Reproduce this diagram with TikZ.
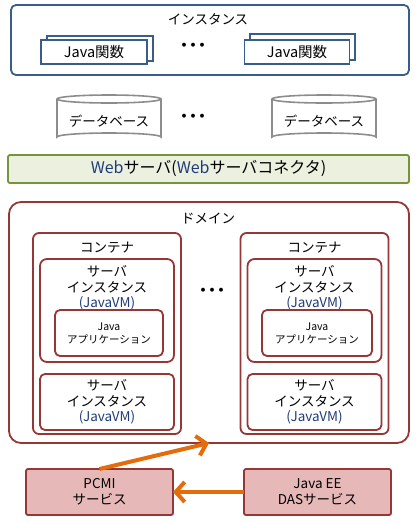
\documentclass[tikz,border=0pt]{standalone}
\usepackage{fontspec}
\setmainfont{Noto Sans CJK JP}
\usetikzlibrary{arrows.meta}
\definecolor{instblue}{HTML}{385D8A}
\definecolor{domred}{HTML}{953735}
\definecolor{webfill}{HTML}{EBF1DE}
\definecolor{webdraw}{HTML}{77933C}
\definecolor{pinkfill}{HTML}{E6B9B8}
\definecolor{arrorange}{HTML}{E46C0A}
\definecolor{latinblue}{HTML}{1F3B7A}
\definecolor{dbgray}{HTML}{8C8C8C}
\tikzset{
  base/.style={inner sep=0pt, outer sep=0pt},
  instbox/.style={base, draw=instblue, line width=1.8pt, rounded corners=5pt},
  funcbox/.style={base, draw=instblue, line width=1.8pt, fill=white, font=\fontsize{14.5}{16}\selectfont},
  redbox/.style={base, draw=domred, line width=1.8pt, align=center},
  webbox/.style={base, draw=webdraw, fill=webfill, line width=1.8pt, rounded corners=2pt, font=\fontsize{16}{18}\selectfont},
  svcbox/.style={base, draw=domred, fill=pinkfill, line width=1.8pt, rounded corners=2pt, align=center, font=\fontsize{13.5}{16.5}\selectfont},
  txt/.style={base, align=center, font=\fontsize{13.5}{15.5}\selectfont},
  apptxt/.style={base, align=center, font=\fontsize{10.5}{13}\selectfont},
  dots/.style={base, font=\bfseries\fontsize{14}{14}\selectfont},
  dbline/.style={draw=dbgray, line width=1.6pt, fill=white},
  arr/.style={draw=arrorange, line width=4pt, -{Straight Barb[length=9pt,width=20pt]}},
}
\newcommand{\jvm}{{\color{latinblue}(JavaVM)}}
\newcommand{\threedots}{・\kern-5pt・\kern-5pt・}
\begin{document}
\begin{tikzpicture}[x=1pt,y=-1pt]
\useasboundingbox (0,0) rectangle (417,523);

% instance
\node[instbox, minimum width=398pt, minimum height=70pt] (inst) at (210,40) {};
\node[txt] (instt) at (208,19) {インスタンス};
\node[funcbox, minimum width=106pt, minimum height=25pt] (f1b) at (100,48.5) {};
\node[funcbox, minimum width=106pt, minimum height=24pt] (f1) at (94,52) {Java関数};
\node[funcbox, minimum width=105pt, minimum height=26pt] (f2b) at (302.5,47) {};
\node[funcbox, minimum width=105pt, minimum height=24pt] (f2) at (297,52) {Java関数};
\node[dots] (d1) at (193,47) {\threedots};

% databases
\foreach \cx/\nm in {109/db1, 324/db2}{
  \path[dbline] (\cx-52,99) -- (\cx-52,137) arc[start angle=180,end angle=360,x radius=52,y radius=4] -- (\cx+52,99);
  \draw[dbgray, line width=1.6pt] (\cx,99) ellipse[x radius=52, y radius=4];
  \node[txt] (\nm) at (\cx,121) {データベース};
}
\node[dots] (d2) at (193,118) {\threedots};

% web server
\node[webbox, minimum width=401pt, minimum height=28pt] (web) at (208.5,169) {{\color{latinblue}Web}サーバ({\color{latinblue}Web}サーバコネクタ)};

% domain
\node[redbox, rounded corners=12pt, minimum width=400pt, minimum height=241pt] (dom) at (209,322.5) {};
\node[txt] (domt) at (208,218) {ドメイン};
\node[dots] (d3) at (212,292) {\threedots};

\foreach \cx/\ax/\aw/\nm in {107/109/108/L, 314.5/317/110/R}{
  \node[redbox, rounded corners=6pt, minimum width=148pt, minimum height=201pt] (cont\nm) at (\cx,333.5) {};
  \node[txt] (contt\nm) at (\cx,248) {コンテナ};
  \node[redbox, rounded corners=7pt, minimum width=134pt, minimum height=103pt] (si\nm) at (\cx,310.5) {};
  \node[txt] (sit\nm) at (\cx,288) {サーバ\\インスタンス\\\jvm};
  \node[redbox, rounded corners=5pt, minimum width=\aw pt, minimum height=46pt, apptxt] (app\nm) at (\ax,333) {Java\\アプリケーション};
  \node[redbox, rounded corners=5pt, minimum width=134pt, minimum height=56pt, txt] (sib\nm) at (\cx,402) {サーバ\\インスタンス\\\jvm};
}

% services
\node[svcbox, minimum width=147pt, minimum height=46pt] (pcmi) at (99.5,492) {PCMI\\サービス};
\node[svcbox, minimum width=147pt, minimum height=46pt] (das) at (317.5,492) {Java EE\\DASサービス};

\draw[arr] (pcmi.north) -- (dom.south);
\draw[arr] (das.west) -- (pcmi.east);
\end{tikzpicture}
\end{document}
